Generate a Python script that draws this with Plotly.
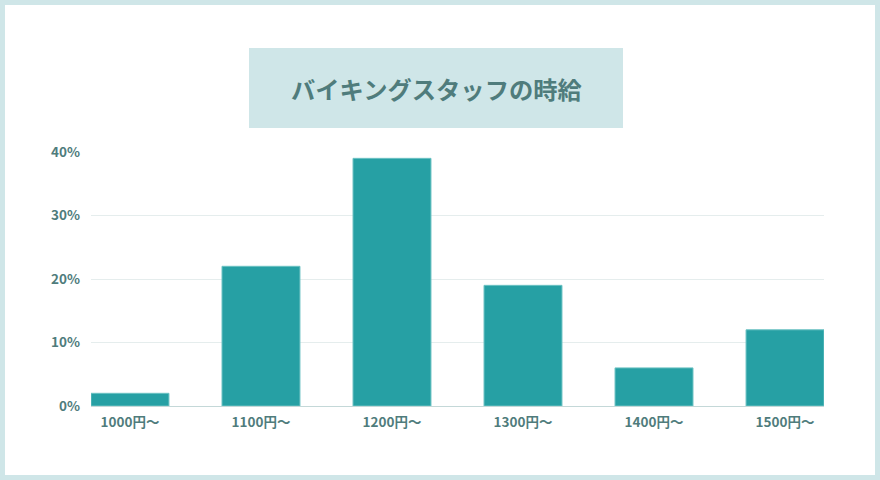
import plotly.graph_objects as go

# hourly wage brackets and share of staff (%)
categories = ["1000円〜", "1100円〜", "1200円〜", "1300円〜", "1400円〜", "1500円〜"]
shares = [2, 22, 39, 19, 6, 12]
y_ticks = [0, 10, 20, 30, 40]
y_tick_labels = ["0%", "10%", "20%", "30%", "40%"]
title_text = "バイキングスタッフの時給"

FONT = "Noto Sans CJK JP, Noto Sans, sans-serif"
BORDER = "#cfe6e8"
TEXT = "#4f7c7c"
BAR = "#26a0a4"

W, H = 880, 480
L, R, T, B = 91, 56, 152, 74
pw, ph = W - L - R, H - T - B


def px_x(x):
    return (x - L) / pw


def px_y(y):
    return (H - B - y) / ph


fig = go.Figure(
    go.Bar(
        x=list(range(len(categories))),
        y=shares,
        marker=dict(color=BAR, line=dict(color="#6cc2c3", width=1)),
        width=0.595,
        hoverinfo="skip",
    )
)

# white card inside the pale teal frame
fig.add_shape(
    type="rect", xref="paper", yref="paper", layer="below",
    x0=px_x(5), x1=px_x(875), y0=px_y(475), y1=px_y(5),
    fillcolor="white", line=dict(width=0),
)
# title box
fig.add_shape(
    type="rect", xref="paper", yref="paper", layer="below",
    x0=px_x(249), x1=px_x(623), y0=px_y(128), y1=px_y(48),
    fillcolor=BORDER, line=dict(width=0),
)
fig.add_annotation(
    text=title_text, xref="paper", yref="paper",
    x=px_x(436), y=px_y(88), xanchor="center", yanchor="middle",
    showarrow=False,
    font=dict(family=FONT, size=24.3, color=TEXT, weight="bold"),
)

fig.update_layout(
    width=W, height=H,
    margin=dict(l=L, r=R, t=T, b=B, pad=0),
    paper_bgcolor=BORDER,
    plot_bgcolor="rgba(0,0,0,0)",
    showlegend=False,
    font=dict(family=FONT, size=14, color=TEXT, weight="bold"),
)
fig.update_xaxes(
    range=[-0.2975, len(categories) - 1 + 0.2975],
    tickmode="array", tickvals=list(range(len(categories))), ticktext=categories,
    showgrid=False, zeroline=False, showline=False,
    ticks="", ticklabelstandoff=6,
    tickfont=dict(size=13.5),
)
fig.update_yaxes(
    range=[0, 40],
    tickmode="array", tickvals=y_ticks, ticktext=y_tick_labels,
    showgrid=True, gridcolor="#e5eded", gridwidth=1,
    zeroline=True, zerolinecolor="#c4d8d8", zerolinewidth=1,
    showline=False, ticks="", ticklabelstandoff=10,
    tickfont=dict(size=13.5),
)

fig.write_html(
    "out.html",
    config={"displayModeBar": False},
    post_script="document.body.style.margin='0';document.body.style.overflow='hidden';",
)
